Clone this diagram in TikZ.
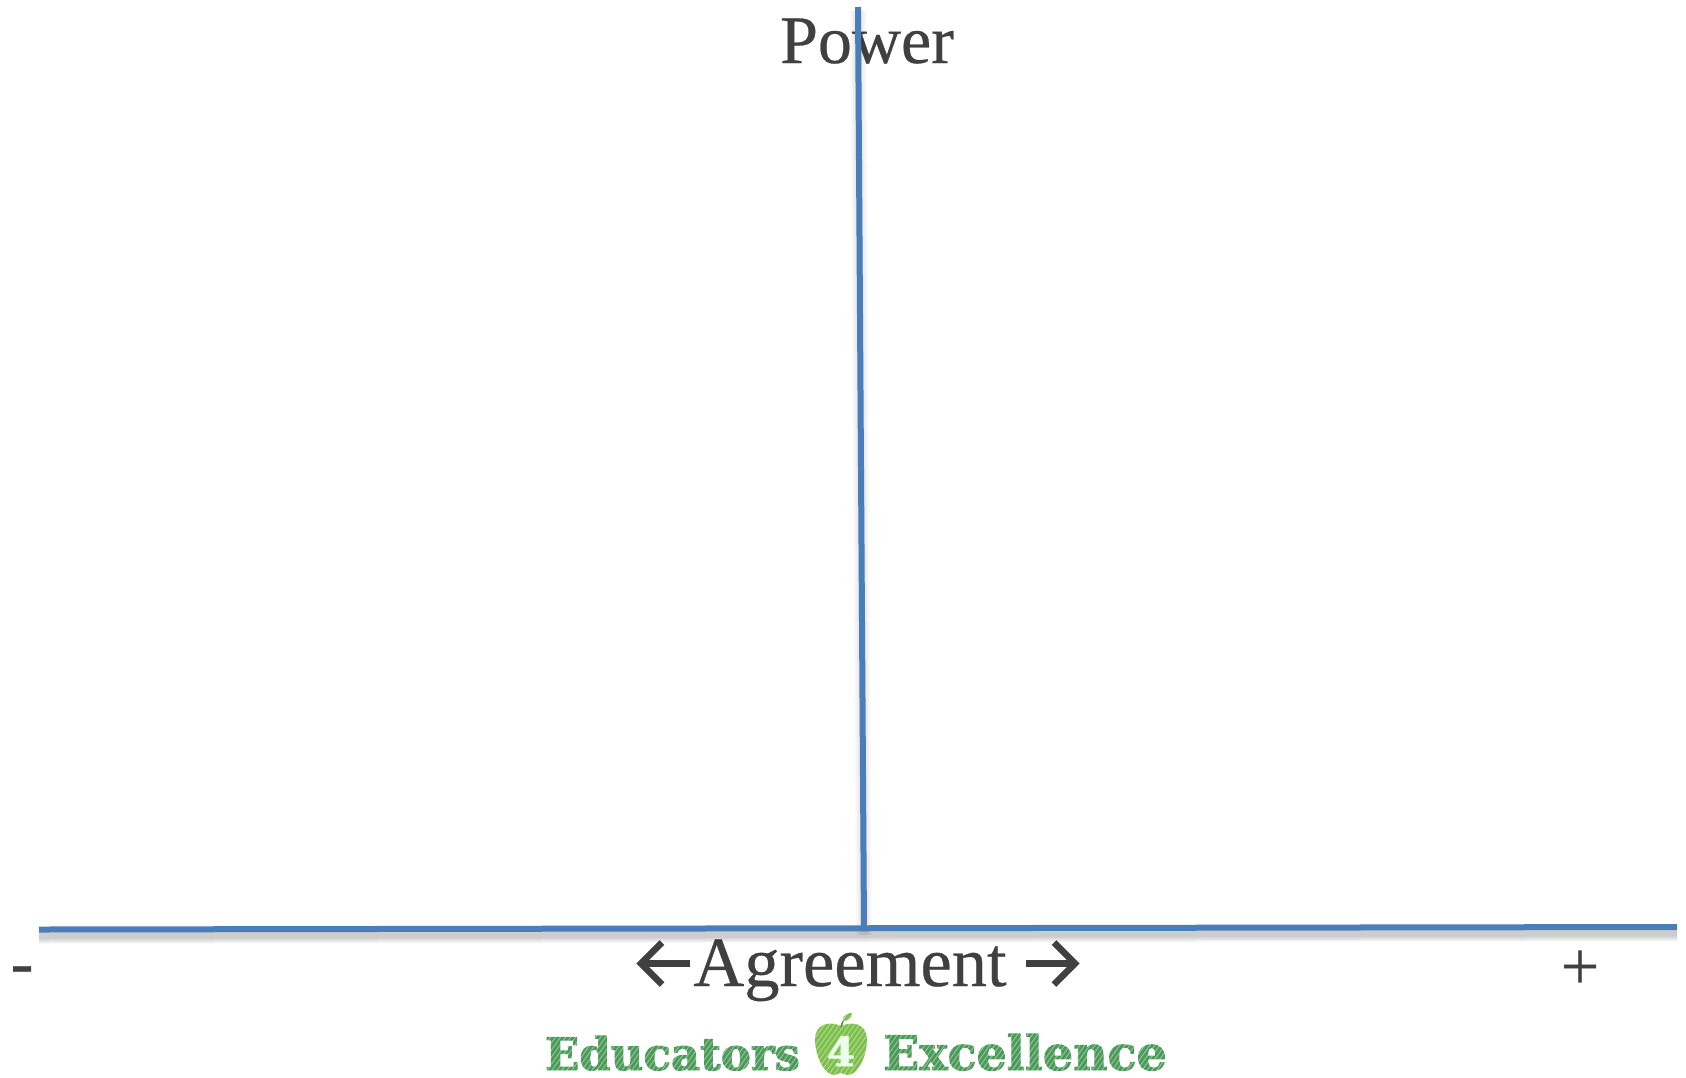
\documentclass[tikz,border=0pt]{standalone}
\usepackage{fontspec}
\setmainfont{Liberation Serif}
\newfontfamily\labelfont[FakeBold=0.4]{Liberation Serif}
\newfontfamily\logofont[FakeBold=2]{DejaVu Serif Bold}
\usetikzlibrary{calc}
\definecolor{axisblue}{HTML}{4A7EBB}
\definecolor{inkgrey}{HTML}{404040}
\definecolor{logogreen}{HTML}{4A9A58}
\definecolor{applegreen}{HTML}{7CBF4B}
\tikzset{
  x=1pt,y=-1pt,
  axisline/.style={draw=axisblue,line width=6pt},
  shadowline/.style={draw=black,opacity=0.05},
  lab/.style={anchor=base,inner sep=0pt,text=inkgrey,font=\labelfont\fontsize{68}{70}\selectfont},
  biglab/.style={anchor=base,inner sep=0pt,text=inkgrey,font=\labelfont\fontsize{70.5}{72}\selectfont},
  logoedu/.style={anchor=base,inner sep=0pt,text=logogreen,font=\logofont\fontsize{45}{47}\selectfont},
  logoexc/.style={anchor=base,inner sep=0pt,text=logogreen,font=\logofont\fontsize{47.5}{49}\selectfont},
  chevron/.style={draw=inkgrey,line width=6.5pt,miter limit=10},
  hatchline/.style={draw=white,opacity=0.4,line width=1pt},
}
\begin{document}
\begin{tikzpicture}
\useasboundingbox (0,0) rectangle (1686,1077);
\fill[white] (0,0) rectangle (1686,1077);
% labels
\node[lab] (power) at (867,63) {Power};
\node[biglab] (agree) at (850,986) {Agreement};
\node[lab] (minus) at (22,985) {-};
\node[lab] (plus) at (1580,989) {+};
% arrows either side of Agreement
\coordinate (la) at (641,963.5);
\coordinate (lb) at (690,963.5);
\coordinate (ra) at (1075,963.5);
\coordinate (rb) at (1026,963.5);
\draw[chevron] (lb) -- (la);
\draw[chevron] ($(la)+(21,-21)$) -- (la) -- ($(la)+(21,21)$);
\draw[chevron] (rb) -- (ra);
\draw[chevron] ($(ra)+(-21,-21)$) -- (ra) -- ($(ra)+(-21,21)$);
% axis end points
\coordinate (xl) at (39,929.5);
\coordinate (xr) at (1677,927);
\coordinate (yt) at (858,7);
\coordinate (yb) at (864,931);
% soft shadows
\foreach \w in {16,13,10,7}{
  \draw[shadowline,line width=\w pt] ($(xl)+(0,6)$) -- ($(xr)+(0,6)$);
  \draw[shadowline,line width=\w pt,opacity=0.025] ($(yt)+(0,4)$) -- ($(yb)+(0,4)$);
}
\draw[axisline] (xl) -- (xr);
\draw[axisline] (yt) -- (yb);
% logo
\node[logoedu] (edu) at (672.5,1070) {Educators};
\node[logoexc] (exc) at (1025,1070) {Excellence};
\fill[applegreen] (841,1026)
  .. controls (852,1021) and (867,1023) .. (867,1040)
  .. controls (867,1055) and (858,1075) .. (848,1075)
  .. controls (845,1075) and (843,1073) .. (841,1073)
  .. controls (839,1073) and (836,1075) .. (834,1075)
  .. controls (824,1075) and (815,1055) .. (815,1040)
  .. controls (815,1023) and (830,1021) .. (841,1026) -- cycle;
\draw[applegreen!70!black,line width=1.5pt] (841,1027) -- (843,1021);
\fill[applegreen] (843,1021) .. controls (842,1015) and (848,1013) .. (852,1013)
  .. controls (852,1018) and (849,1021) .. (843,1021) -- cycle;
% hand-hatched texture over the logo
\begin{scope}
  \clip (540,1012) rectangle (1175,1077);
  \foreach \i in {0,5,...,680}{
    \draw[hatchline] (520+\i,1080) -- (520+\i+50,1010);
  }
\end{scope}
\node[anchor=base,inner sep=0pt,text=white!92!green,font=\logofont\fontsize{40}{42}\selectfont] (four) at (841,1066) {4};
\end{tikzpicture}
\end{document}
